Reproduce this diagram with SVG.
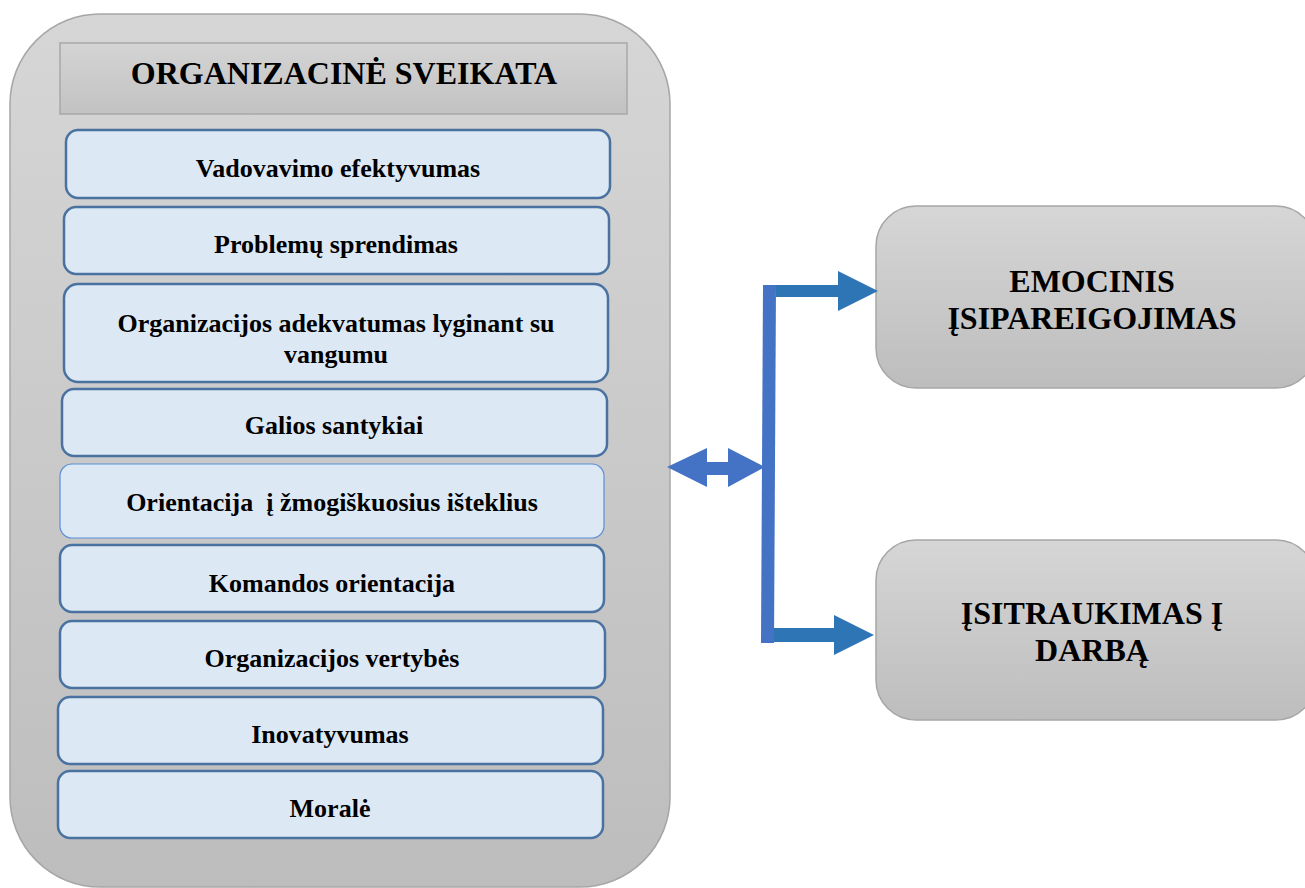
<svg xmlns="http://www.w3.org/2000/svg" width="1305" height="888" viewBox="0 0 1305 888">
<defs>
<linearGradient id="gGrey" x1="0" y1="0" x2="0" y2="1">
<stop offset="0" stop-color="#d6d6d6"/>
<stop offset="1" stop-color="#bdbdbd"/>
</linearGradient>
<linearGradient id="gHead" x1="0" y1="0" x2="0" y2="1">
<stop offset="0" stop-color="#d4d4d4"/>
<stop offset="1" stop-color="#c2c2c2"/>
</linearGradient>
</defs>
<style>
text{font-family:"Liberation Serif","Times New Roman",serif;font-weight:bold;fill:#000;text-anchor:middle;white-space:pre}
.item{fill:#dde8f5;stroke:#4a72a0;stroke-width:2.5}
.item2{fill:#dde8f5;stroke:#5b8fd6;stroke-width:1.2}
.it{font-size:26px}
.big{fill:url(#gGrey);stroke:#a6a6a6;stroke-width:1.5}
.rt{font-size:32px}
</style>
<rect width="1305" height="888" fill="#ffffff"/>
<g id="container">
<rect class="big" x="10" y="14" width="660" height="873" rx="90" ry="90"/>
</g>
<g id="title">
<rect x="60" y="43" width="567" height="71" fill="url(#gHead)" stroke="#a8a8a8" stroke-width="1.5"/>
<text x="344" y="84" style="font-size:32px">ORGANIZACINĖ SVEIKATA</text>
</g>
<g id="item1"><rect class="item" x="66" y="130" width="544" height="68" rx="12"/><text class="it" x="338" y="177">Vadovavimo efektyvumas</text></g>
<g id="item2"><rect class="item" x="64" y="207" width="545" height="67" rx="12"/><text class="it" x="336" y="253">Problemų sprendimas</text></g>
<g id="item3"><rect class="item" x="64" y="284" width="544" height="98" rx="14"/><text class="it" x="336" y="332">Organizacijos adekvatumas lyginant su</text><text class="it" x="336" y="363">vangumu</text></g>
<g id="item4"><rect class="item" x="62" y="389" width="545" height="67" rx="12"/><text class="it" x="334" y="434">Galios santykiai</text></g>
<g id="item5"><rect class="item2" x="60" y="464" width="544" height="74" rx="12"/><text class="it" x="332" y="511" xml:space="preserve">Orientacija  į žmogiškuosius išteklius</text></g>
<g id="item6"><rect class="item" x="60" y="545" width="544" height="67" rx="12"/><text class="it" x="332" y="592">Komandos orientacija</text></g>
<g id="item7"><rect class="item" x="60" y="621" width="545" height="67" rx="12"/><text class="it" x="332" y="667">Organizacijos vertybės</text></g>
<g id="item8"><rect class="item" x="58" y="697" width="545" height="67" rx="12"/><text class="it" x="330" y="743">Inovatyvumas</text></g>
<g id="item9"><rect class="item" x="58" y="771" width="545" height="67" rx="12"/><text class="it" x="330" y="817">Moralė</text></g>
<g id="emocinis">
<rect class="big" x="876" y="206" width="440" height="182" rx="40" ry="40"/>
<text class="rt" x="1092" y="292">EMOCINIS</text>
<text class="rt" x="1092" y="329">ĮSIPAREIGOJIMAS</text>
</g>
<g id="isitraukimas">
<rect class="big" x="876" y="540" width="440" height="180" rx="40" ry="40"/>
<text class="rt" x="1092" y="624">ĮSITRAUKIMAS Į</text>
<text class="rt" x="1092" y="661">DARBĄ</text>
</g>
<g id="connectors">
<polygon fill="#4472c4" points="667,467 707,448 707,462 728,462 728,448 765,467 728,487 728,475 707,475 707,487"/>
<polygon fill="#4472c4" points="763,285 776,285 774,643 761,643"/>
<polygon fill="#2e75b6" points="776,285 838,285 838,271 878,291 838,311 838,297 776,297"/>
<polygon fill="#2e75b6" points="774,628 834,628 834,615 874,635 834,655 834,642 774,642"/>
</g>
</svg>
